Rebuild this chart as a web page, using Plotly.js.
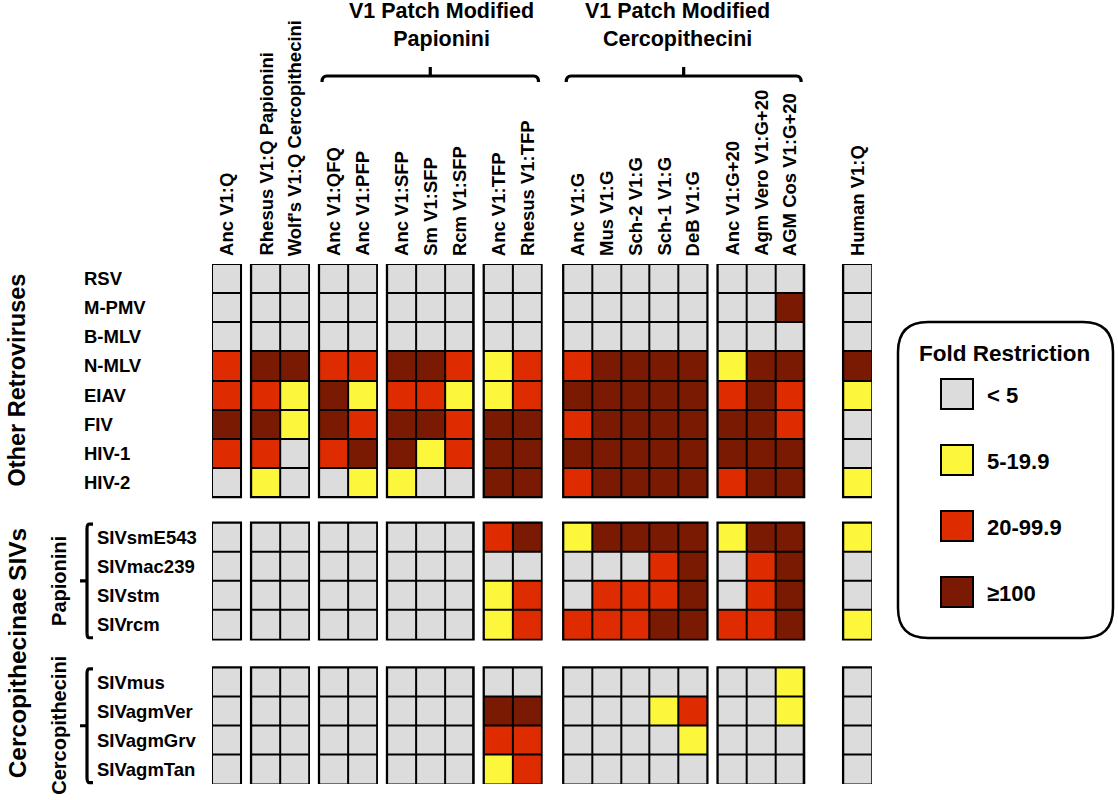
<!DOCTYPE html>
<html><head><meta charset="utf-8">
<script src="https://cdn.plot.ly/plotly-3.0.1.min.js"></script>
<style>body{margin:0;background:#fff}</style>
</head><body><div id="chart" style="width:1118px;height:800px"></div>
<script>
// ---------------- DATA ----------------
const columns = ["Anc V1:Q","Rhesus V1:Q Papionini","Wolf's V1:Q Cercopithecini","Anc V1:QFQ","Anc V1:PFP",
  "Anc V1:SFP","Sm V1:SFP","Rcm V1:SFP","Anc V1:TFP","Rhesus V1:TFP",
  "Anc V1:G","Mus V1:G","Sch-2 V1:G","Sch-1 V1:G","DeB V1:G",
  "Anc V1:G+20","Agm Vero V1:G+20","AGM Cos V1:G+20","Human V1:Q"];
const columnGroupSizes = [1,2,2,3,2,5,3,1];
const columnHeaders = ["V1 Patch Modified<br>Papionini","V1 Patch Modified<br>Cercopithecini"];
const headerGroupSpans = [[2,4],[5,6]];   // column groups covered by each header brace
const rows = ["RSV","M-PMV","B-MLV","N-MLV","EIAV","FIV","HIV-1","HIV-2",
  "SIVsmE543","SIVmac239","SIVstm","SIVrcm",
  "SIVmus","SIVagmVer","SIVagmGrv","SIVagmTan"];
const rowGroupSizes = [8,4,4];
const rowGroupLabels = ["Other Retroviruses","Cercopithecinae SIVs"];
const rowSubLabels = ["Papionini","Cercopithecini"];
const foldClasses = ["< 5","5-19.9","20-99.9","≥100"];
// fold-restriction class (0: <5, 1: 5-19.9, 2: 20-99.9, 3: >=100), one row per virus, one value per TRIM5 column
const restriction = [
  [0,0,0,0,0,0,0,0,0,0,0,0,0,0,0,0,0,0,0], // RSV
  [0,0,0,0,0,0,0,0,0,0,0,0,0,0,0,0,0,3,0], // M-PMV
  [0,0,0,0,0,0,0,0,0,0,0,0,0,0,0,0,0,0,0], // B-MLV
  [2,3,3,2,2,3,3,2,1,2,2,3,3,3,3,1,3,3,3], // N-MLV
  [2,2,1,3,1,2,2,1,1,2,3,3,3,3,3,2,3,2,1], // EIAV
  [3,3,1,3,2,3,3,2,3,3,2,3,3,3,3,3,3,2,0], // FIV
  [2,2,0,2,3,3,1,2,3,3,3,3,3,3,3,3,3,3,0], // HIV-1
  [0,1,0,0,1,1,0,0,3,3,2,3,3,3,3,2,3,3,1], // HIV-2
  [0,0,0,0,0,0,0,0,2,3,1,3,3,3,3,1,3,3,1], // SIVsmE543
  [0,0,0,0,0,0,0,0,0,0,0,0,0,2,3,0,2,3,0], // SIVmac239
  [0,0,0,0,0,0,0,0,1,2,0,2,2,2,3,0,2,3,0], // SIVstm
  [0,0,0,0,0,0,0,0,1,2,2,2,2,3,3,2,2,3,1], // SIVrcm
  [0,0,0,0,0,0,0,0,0,0,0,0,0,0,0,0,0,1,0], // SIVmus
  [0,0,0,0,0,0,0,0,3,3,0,0,0,1,2,0,0,1,0], // SIVagmVer
  [0,0,0,0,0,0,0,0,2,2,0,0,0,0,1,0,0,0,0], // SIVagmGrv
  [0,0,0,0,0,0,0,0,1,2,0,0,0,0,0,0,0,0,0]  // SIVagmTan
];

// ---------------- STYLE / LAYOUT CONSTANTS ----------------
const classColors = ["#dcdcdc","#fcf73a","#de2c00","#7b1a02"];
const colGaps = [0.36,0.36,0.36,0.36,0.76,0.36,1.36];
const rowGaps = [0.88,0.97];
const FONT = "Liberation Sans, Arial, Helvetica, sans-serif";
const W = 1118, H = 800, ML = 212, MT = 264, PW = 660, PH = 520;

function starts(sizes, gaps){ const s=[]; let p=0; sizes.forEach((n,i)=>{ s.push(p); p+=n+(i<gaps.length?gaps[i]:0);}); return {s, total:p}; }
const cs = starts(columnGroupSizes, colGaps), rs = starts(rowGroupSizes, rowGaps);
const XW = cs.total, YH = rs.total;
const colFirst = [], rowFirst = [];
columnGroupSizes.reduce((a,n)=>{colFirst.push(a);return a+n;},0);
rowGroupSizes.reduce((a,n)=>{rowFirst.push(a);return a+n;},0);
function colCenter(j){ let g=0; while(g+1<colFirst.length && colFirst[g+1]<=j) g++; return cs.s[g]+(j-colFirst[g])+0.5; }
function rowCenter(i){ let g=0; while(g+1<rowFirst.length && rowFirst[g+1]<=i) g++; return rs.s[g]+(i-rowFirst[g])+0.5; }
const px2x = px => (px-ML)/PW;            // pixel -> paper
const py2y = py => 1-(py-MT)/PH;
const u2x = u => u/XW;                   // x axis unit -> paper
const u2y = u => 1-u/YH;                 // y axis unit -> paper

const colorscale = [];
classColors.forEach((c,k)=>{ colorscale.push([k/4,c]); colorscale.push([(k+1)/4,c]); });

// ---------------- TRACES ----------------
const traces = [];
const shapes = [];
rowGroupSizes.forEach((rn,rg)=>{
  columnGroupSizes.forEach((cn,cg)=>{
    const z = [], txt = [];
    for(let i=0;i<rn;i++){
      const r = rowFirst[rg]+i;
      z.push(restriction[r].slice(colFirst[cg], colFirst[cg]+cn));
      txt.push(restriction[r].slice(colFirst[cg], colFirst[cg]+cn).map((v,k)=>rows[r]+' / '+columns[colFirst[cg]+k]+': '+foldClasses[v]));
    }
    traces.push({type:'heatmap', z, text:txt, hoverinfo:'text',
      x0: cs.s[cg]+0.5, dx:1, y0: rs.s[rg]+0.5, dy:1,
      zmin:-0.5, zmax:3.5, colorscale, showscale:false, xgap:2, ygap:2});
    shapes.push({type:'rect', xref:'x', yref:'y', layer:'below',
      x0: cs.s[cg], x1: cs.s[cg]+cn, y0: rs.s[rg], y1: rs.s[rg]+rn,
      fillcolor:'#000', line:{color:'#000', width:2.5}});
  });
});

// ---------------- DECORATIONS ----------------
const annotations = [];
const bold = (size)=>({family:FONT, size, weight:'bold', color:'#000'});
// column labels (rotated, reading upward from just above the grid)
columns.forEach((c,j)=>{
  annotations.push({xref:'x', yref:'paper', x: colCenter(j), y: py2y(258), text:c, textangle:-90,
    xanchor:'center', yanchor:'bottom', showarrow:false, font:bold(18.5)});
});
// row labels (left aligned)
rows.forEach((r,i)=>{
  const g = i<rowGroupSizes[0] ? 0 : 1;
  annotations.push({xref:'paper', yref:'y', x: px2x(g===0?82:95), y: rowCenter(i), text:r,
    xanchor:'left', yanchor:'middle', showarrow:false, font:bold(18.5)});
});
// header titles + braces
const headerCentersPx = [441, 677];
columnHeaders.forEach((h,k)=>{
  annotations.push({xref:'paper', yref:'paper', x: px2x(headerCentersPx[k]), y: py2y(25), text:h,
    xanchor:'center', yanchor:'middle', align:'center', showarrow:false, font:bold(21.5)});
  const [ga,gb] = headerGroupSpans[k];
  const xa = u2x(cs.s[ga]+0.1), xb = u2x(cs.s[gb]+columnGroupSizes[gb]-0.1), xc = (xa+xb)/2;
  const yl = py2y(76), ye = py2y(82), yt = py2y(67), r = 5/PW;
  shapes.push({type:'path', xref:'paper', yref:'paper', line:{color:'#000', width:3.2},
    path:`M${xa},${ye} Q${xa},${yl} ${xa+r},${yl} L${xb-r},${yl} Q${xb},${yl} ${xb},${ye} M${xc},${yl} L${xc},${yt}`});
});
// side labels
const blockMid = g => u2y(rs.s[g]+rowGroupSizes[g]/2);
annotations.push({xref:'paper', yref:'paper', x:px2x(17), y:blockMid(0), text:rowGroupLabels[0], textangle:-90,
  xanchor:'center', yanchor:'middle', showarrow:false, font:bold(23.5)});
annotations.push({xref:'paper', yref:'paper', x:px2x(17), y:(u2y(rs.s[1])+u2y(YH))/2, text:rowGroupLabels[1], textangle:-90,
  xanchor:'center', yanchor:'middle', showarrow:false, font:bold(24.5)});
rowSubLabels.forEach((t,k)=>{
  const g = k+1;
  annotations.push({xref:'paper', yref:'paper', x:px2x(59), y:blockMid(g), text:t, textangle:-90,
    xanchor:'center', yanchor:'middle', showarrow:false, font:bold(20)});
  const y0 = u2y(rs.s[g]+0.05), y1 = u2y(rs.s[g]+rowGroupSizes[g]-0.05), ym = blockMid(g);
  const xv = px2x(87), xs = px2x(93), xt = px2x(80), rr = 5/PH;
  shapes.push({type:'path', xref:'paper', yref:'paper', line:{color:'#000', width:3.2},
    path:`M${xs},${y0} L${xv+(2/PW)},${y0} Q${xv},${y0} ${xv},${y0-rr} L${xv},${y1+rr} Q${xv},${y1} ${xv+(2/PW)},${y1} L${xs},${y1} M${xv},${ym} L${xt},${ym}`});
});
// legend box
(function(){
  const x0=px2x(898), x1=px2x(1113), y0=py2y(322), y1=py2y(638), rx=30/PW, ry=30/PH;
  shapes.push({type:'path', xref:'paper', yref:'paper', line:{color:'#000', width:2.5}, fillcolor:'rgba(0,0,0,0)',
    path:`M${x0+rx},${y0} L${x1-rx},${y0} Q${x1},${y0} ${x1},${y0-ry} L${x1},${y1+ry} Q${x1},${y1} ${x1-rx},${y1} L${x0+rx},${y1} Q${x0},${y1} ${x0},${y1+ry} L${x0},${y0-ry} Q${x0},${y0} ${x0+rx},${y0} Z`});
  annotations.push({xref:'paper', yref:'paper', x:px2x(1004), y:py2y(353), text:'Fold Restriction',
    xanchor:'center', yanchor:'middle', showarrow:false, font:bold(22.5)});
  foldClasses.forEach((c,k)=>{
    const cy = 394 + k*66;
    shapes.push({type:'rect', xref:'paper', yref:'paper', x0:px2x(941), x1:px2x(973), y0:py2y(cy-15), y1:py2y(cy+15),
      fillcolor:classColors[k], line:{color:'#000', width:2}});
    annotations.push({xref:'paper', yref:'paper', x:px2x(985), y:py2y(cy+1), text:c,
      xanchor:'left', yanchor:'middle', showarrow:false, font:bold(22)});
  });
})();

const layout = {
  width:W, height:H, margin:{l:ML, r:W-ML-PW, t:MT, b:H-MT-PH, pad:0},
  paper_bgcolor:'#fff', plot_bgcolor:'#fff', showlegend:false,
  xaxis:{range:[0,XW], showticklabels:false, showgrid:false, zeroline:false, showline:false, ticks:'', automargin:false, fixedrange:true},
  yaxis:{range:[YH,0], showticklabels:false, showgrid:false, zeroline:false, showline:false, ticks:'', automargin:false, fixedrange:true},
  shapes, annotations
};
Plotly.newPlot('chart', traces, layout, {displayModeBar:false, staticPlot:true});
</script></body></html>
